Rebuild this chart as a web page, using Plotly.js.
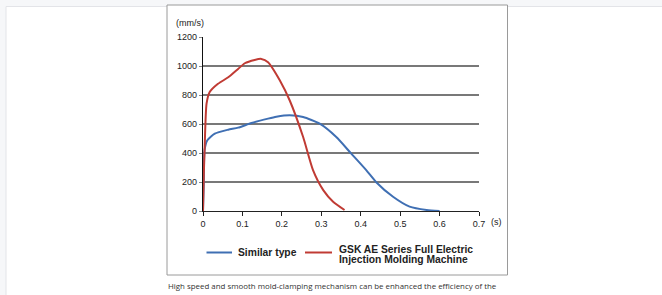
<!DOCTYPE html>
<html>
<head>
<meta charset="utf-8">
<script src="https://cdn.plot.ly/plotly-3.0.1.min.js"></script>
<style>html,body{margin:0;padding:0;background:#fff;}#chart{width:662px;height:295px;}</style>
</head>
<body>
<div id="chart"></div>
<script>
// Time (s) and clamping speed (mm/s)
const timeSimilar = [0, 0.002, 0.004, 0.011, 0.030, 0.064, 0.089, 0.123, 0.165, 0.186, 0.220, 0.254, 0.296, 0.338, 0.376, 0.414, 0.440, 0.482, 0.524, 0.567, 0.600];
const speedSimilar = [0, 200, 420, 488, 534, 561, 575, 607, 637, 650, 660, 648, 602, 510, 396, 282, 197, 98, 30, 7, 0];

const timeGSK = [0, 0.002, 0.004, 0.009, 0.017, 0.038, 0.064, 0.089, 0.106, 0.131, 0.148, 0.165, 0.195, 0.220, 0.254, 0.279, 0.305, 0.330, 0.359];
const speedGSK = [0, 250, 420, 740, 820, 877, 922, 980, 1019, 1042, 1049, 1026, 900, 762, 510, 282, 144, 64, 7];

const seriesNames = ["Similar type", "GSK AE Series Full Electric", "Injection Molding Machine"];
const xTickVals = [0, 0.1, 0.2, 0.3, 0.4, 0.5, 0.6, 0.7];
const xTickText = ["0", "0.1", "0.2", "0.3", "0.4", "0.5", "0.6", "0.7"];
const yTickVals = [0, 200, 400, 600, 800, 1000, 1200];
const captionLines = ["High speed and smooth mold-clamping mechanism can be enhanced the efficiency of the", "machine."];

const BLUE = "#3f6fb3", RED = "#c03b34";
// pixel -> paper helpers (plot area: x 203..479, y 37..211)
const L = 203, T = 37, W = 276, H = 174;
const px = p => (p - L) / W;
const py = p => (T + H - p) / H;

const traces = [
  {x: timeSimilar, y: speedSimilar, type: "scatter", mode: "lines", name: seriesNames[0],
   line: {color: BLUE, width: 2, shape: "spline", smoothing: 0.6}, cliponaxis: false, showlegend: false},
  {x: timeGSK, y: speedGSK, type: "scatter", mode: "lines", name: seriesNames[1] + " " + seriesNames[2],
   line: {color: RED, width: 2, shape: "spline", smoothing: 0.6}, cliponaxis: false, showlegend: false}
];

const tickFont = {family: "Liberation Sans, Arial, sans-serif", size: 9, color: "#222"};
const legFont = {family: "Liberation Sans, Arial, sans-serif", size: 10.3, color: "#222", weight: "bold"};
const capFont = {family: "Open Sans, sans-serif", size: 7.9, color: "#333"};

const shapes = [
  // page background strips
  {type: "rect", xref: "paper", yref: "paper", x0: px(0), x1: px(662), y0: py(0), y1: py(295), fillcolor: "#f6f7f9", line: {width: 0}, layer: "below"},
  {type: "rect", xref: "paper", yref: "paper", x0: px(6), x1: px(670), y0: py(6.5), y1: py(300), fillcolor: "#ffffff", line: {color: "#e3e4e8", width: 1}, layer: "below"},
  // image box
  {type: "rect", xref: "paper", yref: "paper", x0: px(167), x1: px(507.5), y0: py(5), y1: py(275), fillcolor: "#ffffff", line: {color: "#9a9a9a", width: 1}, layer: "below"},
  // legend samples
  {type: "line", xref: "paper", yref: "paper", x0: px(206.5), x1: px(232), y0: py(252.5), y1: py(252.5), line: {color: BLUE, width: 2}},
  {type: "line", xref: "paper", yref: "paper", x0: px(305), x1: px(332), y0: py(252.5), y1: py(252.5), line: {color: RED, width: 2}}
];

const annotations = [
  {xref: "paper", yref: "paper", x: px(174), y: py(22.5), xanchor: "left", yanchor: "middle", text: "(mm/s)", showarrow: false, font: tickFont},
  {xref: "paper", yref: "paper", x: px(489), y: py(222), xanchor: "left", yanchor: "middle", text: "(s)", showarrow: false, font: tickFont},
  {xref: "paper", yref: "paper", x: px(236), y: py(252.5), xanchor: "left", yanchor: "middle", text: seriesNames[0], showarrow: false, font: legFont},
  {xref: "paper", yref: "paper", x: px(337), y: py(249.5), xanchor: "left", yanchor: "middle", text: seriesNames[1], showarrow: false, font: legFont},
  {xref: "paper", yref: "paper", x: px(337), y: py(259), xanchor: "left", yanchor: "middle", text: seriesNames[2], showarrow: false, font: legFont},
  {xref: "paper", yref: "paper", x: px(166), y: py(286), xanchor: "left", yanchor: "middle", text: captionLines[0], showarrow: false, font: capFont},
  {xref: "paper", yref: "paper", x: px(166), y: py(298), xanchor: "left", yanchor: "middle", text: captionLines[1], showarrow: false, font: capFont}
];

const layout = {
  width: 662, height: 295,
  margin: {l: L, r: 662 - L - W, t: T, b: 295 - T - H, pad: 0},
  paper_bgcolor: "#ffffff", plot_bgcolor: "rgba(0,0,0,0)",
  showlegend: false,
  xaxis: {range: [0, 0.7], tickvals: xTickVals, ticktext: xTickText, showgrid: false, zeroline: false,
          showline: true, linecolor: "#222", linewidth: 1, ticks: "outside", ticklen: 4, tickcolor: "#222",
          tickfont: tickFont, fixedrange: true},
  yaxis: {range: [0, 1200], tickvals: yTickVals, showgrid: true, gridcolor: "#787878", gridwidth: 2,
          zeroline: false, showline: true, linecolor: "#111", linewidth: 1.2, ticks: "outside", ticklen: 3,
          tickcolor: "#888", tickfont: tickFont, fixedrange: true},
  shapes: shapes,
  annotations: annotations
};

Plotly.newPlot("chart", traces, layout, {displayModeBar: false, staticPlot: true});
</script>
</body>
</html>
